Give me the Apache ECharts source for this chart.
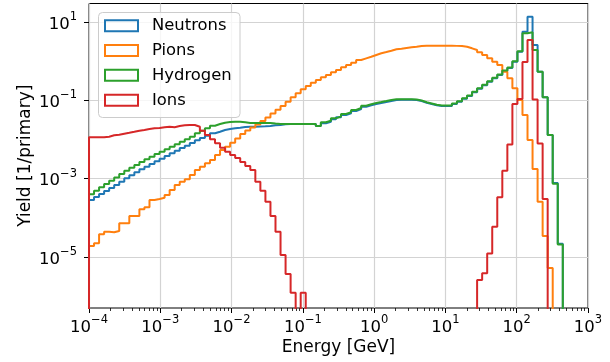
<!DOCTYPE html>
<html><head><meta charset="utf-8">
<script src="https://cdn.jsdelivr.net/npm/echarts@6/dist/echarts.min.js"></script>
<style>html,body{margin:0;padding:0;background:#fff}#c{width:610px;height:362px}</style>
</head><body><div id="c"></div>
<script>
// ---- data: histogram yields per log-spaced energy bin (99 bins from 1e-4 to 1e3 GeV) ----
const seriesNames = ['Neutrons', 'Pions', 'Hydrogen', 'Ions'];
const seriesColors = ['#1f77b4', '#ff7f0e', '#2ca02c', '#d62728'];
const binLogMin = -4, binLogMax = 3, nBins = 99;
const xMajorTicks = [1e-4, 1e-3, 1e-2, 1e-1, 1e0, 1e1, 1e2, 1e3];
const yMajorTicks = [1e-5, 1e-3, 1e-1, 1e1];

const neutrons = [
 2.86e-4,3.40e-4,4.06e-4,4.84e-4,5.78e-4,6.90e-4,8.37e-4,1.02e-3,1.22e-3,1.46e-3,
 1.73e-3,2.02e-3,2.37e-3,2.78e-3,3.24e-3,3.79e-3,4.45e-3,5.18e-3,6.07e-3,6.95e-3,
 8.15e-3,9.55e-3,1.09e-2,1.25e-2,1.44e-2,1.58e-2,1.75e-2,1.85e-2,1.93e-2,2.00e-2,
 2.09e-2,2.12e-2,2.12e-2,2.15e-2,2.17e-2,2.21e-2,2.31e-2,2.35e-2,2.45e-2,2.49e-2,
 2.49e-2,2.49e-2,2.49e-2,2.49e-2,2.49e-2,2.21e-2,2.59e-2,2.85e-2,3.28e-2,3.69e-2,
 4.22e-2,4.67e-2,5.35e-2,6.01e-2,6.88e-2,7.47e-2,8.07e-2,8.55e-2,9.07e-2,9.62e-2,
 0.102,0.104,0.104,0.104,0.102,9.62e-2,8.71e-2,8.07e-2,7.47e-2,7.17e-2,
 7.17e-2,7.17e-2,8.07e-2,9.23e-2,0.110,0.129,0.160,0.198,0.242,0.299,
 0.365,0.443,0.561,0.669,0.97,1.75,5.65,13.7,2.59,0.538,
 0.120,1.30e-2,7.76e-4,2.2e-5,0,0,0,0,0
];
const pions = [
 1.91e-5,2.24e-5,3.80e-5,4.43e-5,4.28e-5,4.61e-5,7.26e-5,7.26e-5,1.11e-4,1.11e-4,
 1.65e-4,1.86e-4,2.86e-4,3.03e-4,3.27e-4,3.83e-4,5.14e-4,6.90e-4,8.37e-4,9.64e-4,
 1.24e-3,1.67e-3,2.02e-3,2.47e-3,3.00e-3,4.02e-3,5.40e-3,6.55e-3,8.30e-3,1.07e-2,
 1.38e-2,1.70e-2,2.03e-2,2.42e-2,2.97e-2,3.65e-2,4.61e-2,5.73e-2,7.17e-2,9.23e-2,
 0.120,0.151,0.191,0.232,0.282,0.331,0.388,0.443,0.520,0.595,
 0.698,0.798,0.914,1.07,1.18,1.30,1.44,1.59,1.71,1.85,
 2.01,2.08,2.17,2.26,2.34,2.44,2.48,2.48,2.48,2.48,
 2.48,2.48,2.46,2.44,2.34,2.13,1.93,1.68,1.44,1.18,
 0.97,0.798,0.538,0.365,0.203,0.102,4.22e-2,9.72e-3,1.77e-3,2.58e-4,
 3.44e-5,5.25e-6,0,0,0,0,0,0,0
];
const hydrogen = [
 3.99e-4,4.93e-4,6.03e-4,7.31e-4,8.87e-4,1.08e-3,1.32e-3,1.60e-3,1.91e-3,2.24e-3,
 2.67e-3,3.13e-3,3.64e-3,4.27e-3,4.89e-3,5.62e-3,6.55e-3,7.55e-3,8.79e-3,1.01e-2,
 1.18e-2,1.44e-2,1.68e-2,1.93e-2,2.25e-2,2.49e-2,2.69e-2,2.80e-2,2.85e-2,2.85e-2,
 2.75e-2,2.64e-2,2.64e-2,2.64e-2,2.64e-2,2.64e-2,2.56e-2,2.49e-2,2.49e-2,2.49e-2,
 2.49e-2,2.49e-2,2.49e-2,2.49e-2,2.49e-2,2.21e-2,2.75e-2,3.02e-2,3.48e-2,3.91e-2,
 4.47e-2,4.95e-2,5.67e-2,6.37e-2,7.29e-2,7.92e-2,8.55e-2,9.06e-2,9.61e-2,0.102,
 0.107,0.107,0.107,0.107,0.105,9.9e-2,8.97e-2,8.31e-2,7.69e-2,7.38e-2,
 7.38e-2,7.38e-2,8.31e-2,9.51e-2,0.113,0.133,0.165,0.204,0.249,0.308,
 0.376,0.456,0.578,0.689,1.0,1.80,5.15,5.46,1.93,0.54,
 0.12,1.30e-2,7.4e-4,2.1e-5,0,0,0,0,0
];
const ions = [
 1.14e-2,1.14e-2,1.14e-2,1.18e-2,1.28e-2,1.33e-2,1.41e-2,1.49e-2,1.58e-2,1.68e-2,
 1.75e-2,1.85e-2,1.93e-2,1.97e-2,2.05e-2,2.12e-2,2.05e-2,2.21e-2,2.31e-2,2.35e-2,
 2.35e-2,2.12e-2,1.68e-2,1.30e-2,1.01e-2,8.0e-3,6.18e-3,4.89e-3,4.02e-3,3.37e-3,
 2.67e-3,2.11e-3,1.67e-3,8.37e-4,4.93e-4,2.58e-4,1.11e-4,4.43e-5,1.13e-5,3.68e-6,
 1.23e-6,0,1.23e-6,0,0,0,0,0,0,0,
 0,0,0,0,0,0,0,0,0,0,
 0,0,0,0,0,0,0,0,0,0,
 0,0,0,0,0,0,0,2.59e-6,3.84e-6,1.24e-5,
 5.94e-5,3.35e-4,1.60e-3,7.46e-3,8.07e-2,0.108,0.953,3.47,0.105,7.91e-3,
 3.03e-4,0,0,0,0,0,0,0,0
];
const seriesValues = [neutrons, pions, hydrogen, ions];

// ---- build ----
const FONT = 'DejaVu Sans';
const edges = [];
for (let k = 0; k <= nBins; k++) edges.push(Math.pow(10, binLogMin + (binLogMax - binLogMin) * k / nBins));
const FLOOR = 1e-12; // empty bins drop below the axis (clipped), like matplotlib's log step
function stepData(vals) {
  const pts = [[edges[0], FLOOR]];
  for (let i = 0; i < vals.length; i++) pts.push([edges[i], vals[i] > 0 ? vals[i] : FLOOR]);
  const last = vals[vals.length - 1];
  pts.push([edges[nBins], last > 0 ? last : FLOOR]);
  pts.push([edges[nBins], FLOOR]);
  return pts;
}
const xMinorTicks = [];
for (let d = binLogMin; d < binLogMax; d++) for (let m = 2; m <= 9; m++) xMinorTicks.push(m * Math.pow(10, d));

function sciLabel(v) {
  const e = Math.round(Math.log10(v));
  const s = e < 0 ? '\u2212' + (-e) : String(e);
  return '{b|10}{s|' + s + '}';
}
const richLab = {
  b: { fontFamily: FONT, fontSize: 16.5, color: '#000', lineHeight: 22, verticalAlign: 'bottom' },
  s: { fontFamily: FONT, fontSize: 11.5, color: '#000', lineHeight: 12, verticalAlign: 'top' }
};

const chart = echarts.init(document.getElementById('c'), null, { renderer: 'canvas' });

const legendCenters = [25.7, 50.5, 75.3, 100.3];
const graphic = [{
  type: 'rect', z: 100,
  shape: { x: 98.5, y: 12.5, width: 141.5, height: 105, r: 4 },
  style: { fill: 'rgba(255,255,255,0.8)', stroke: '#cccccc', lineWidth: 1 }
}];
seriesNames.forEach((n, i) => {
  graphic.push({
    type: 'rect', z: 101,
    shape: { x: 105, y: legendCenters[i] - 5.5, width: 33, height: 11 },
    style: { fill: 'rgba(0,0,0,0)', stroke: seriesColors[i], lineWidth: 2 }
  });
  graphic.push({
    type: 'text', z: 101, x: 152, y: legendCenters[i] + 0.5,
    style: { text: n, fontFamily: FONT, fontSize: 16.4, fill: '#000', verticalAlign: 'middle', align: 'left' }
  });
});

chart.setOption({
  animation: false,
  backgroundColor: '#fff',
  grid: { left: 89, right: 22, top: 3.5, bottom: 54, show: true, borderColor: '#000', borderWidth: 1, backgroundColor: 'rgba(0,0,0,0)' },
  xAxis: [{
    type: 'log', logBase: 10, min: 1e-4, max: 1e3,
    name: 'Energy [GeV]', nameLocation: 'middle', nameGap: 31, nameMoveOverlap: false,
    nameTextStyle: { fontFamily: FONT, fontSize: 17, color: '#000' },
    axisLine: { show: false },
    axisTick: { show: true, inside: false, length: 5, customValues: xMajorTicks, lineStyle: { color: '#000', width: 1 } },
    axisLabel: { customValues: xMajorTicks, formatter: sciLabel, margin: 6.5, rich: richLab, showMinLabel: true, showMaxLabel: true, hideOverlap: false },
    splitLine: { show: true, lineStyle: { color: '#d3d3d3', width: 1.2 } },
    minorTick: { show: false }, minorSplitLine: { show: false }
  }, {
    type: 'log', logBase: 10, min: 1e-4, max: 1e3, position: 'bottom',
    axisLine: { show: false }, axisLabel: { show: false }, splitLine: { show: false },
    axisTick: { show: true, inside: false, length: 3, customValues: xMinorTicks, lineStyle: { color: '#000', width: 0.8 } }
  }],
  yAxis: {
    type: 'log', logBase: 10, min: 5.0e-7, max: 29.7,
    name: 'Yield [1/primary]', nameLocation: 'middle', nameGap: 55, nameMoveOverlap: false,
    nameTextStyle: { fontFamily: FONT, fontSize: 17, color: '#000' },
    axisLine: { show: false },
    axisTick: { show: true, inside: false, length: 5, customValues: yMajorTicks, lineStyle: { color: '#000', width: 1 } },
    axisLabel: { customValues: yMajorTicks, formatter: sciLabel, margin: 12, rich: richLab, showMinLabel: true, showMaxLabel: true },
    splitLine: { show: true, lineStyle: { color: '#d3d3d3', width: 1.2 } },
    minorTick: { show: false }, minorSplitLine: { show: false }
  },
  series: seriesNames.map((n, i) => ({
    name: n, type: 'line', step: 'end', xAxisIndex: 0, yAxisIndex: 0,
    data: stepData(seriesValues[i]),
    symbol: 'none', clip: true,
    lineStyle: { color: seriesColors[i], width: 2 },
    itemStyle: { color: seriesColors[i] },
    emphasis: { disabled: true }
  })),
  graphic: graphic
});
</script>
</body></html>
